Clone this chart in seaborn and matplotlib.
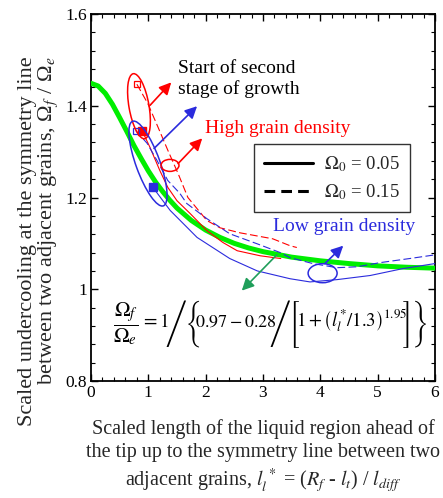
import matplotlib
matplotlib.use("Agg")
import matplotlib.pyplot as plt
import matplotlib.transforms as mtransforms
from matplotlib.patches import Ellipse
from matplotlib.lines import Line2D
from matplotlib.ticker import MultipleLocator, FixedLocator, FixedFormatter
import seaborn as sns
import pandas as pd

# ---- data -------------------------------------------------------------
# fitted relation  Ωf/Ωe = 1/{0.97 - 0.28/[1 + (l*/1.3)^1.95]}
fit_x = [0.0, 0.125, 0.25, 0.375, 0.5, 0.625, 0.75, 0.875, 1.0, 1.125, 1.25, 1.375,
         1.5, 1.75, 2.0, 2.25, 2.5, 2.75, 3.0, 3.5, 4.0, 4.5, 5.0, 5.5, 6.0]
fit_y = [1.449, 1.443, 1.427, 1.403, 1.374, 1.344, 1.313, 1.285, 1.258, 1.234, 1.213,
         1.194, 1.177, 1.150, 1.129, 1.113, 1.100, 1.090, 1.082, 1.070, 1.062, 1.056,
         1.051, 1.048, 1.046]

# high grain density, Ω0 = 0.05 (solid)
hi05_x = [0.89, 1.03, 1.20, 1.34, 1.50, 1.73, 2.02, 2.30, 2.55, 2.95, 3.31]
hi05_y = [1.346, 1.309, 1.259, 1.222, 1.193, 1.165, 1.128, 1.102, 1.084, 1.073, 1.067]

# high grain density, Ω0 = 0.15 (dashed)
hi15_x = [0.80, 0.99, 1.17, 1.34, 1.52, 1.69, 2.02, 2.25, 2.60, 3.17, 3.47, 3.59]
hi15_y = [1.447, 1.405, 1.353, 1.303, 1.252, 1.200, 1.150, 1.134, 1.123, 1.110, 1.095, 1.091]

# low grain density, Ω0 = 0.05 (solid)
lo05_x = [1.08, 1.38, 1.85, 2.42, 2.90, 3.47, 3.82, 4.29, 4.87, 5.44, 6.00]
lo05_y = [1.222, 1.172, 1.113, 1.067, 1.040, 1.023, 1.016, 1.021, 1.030, 1.045, 1.056]

# low grain density, Ω0 = 0.15 (dashed)
lo15_x = [0.78, 0.98, 1.15, 1.34, 1.55, 1.67, 2.02, 2.42, 2.90, 3.30, 3.47, 3.87,
          4.29, 4.64, 5.04, 5.56, 6.00]
lo15_y = [1.346, 1.318, 1.281, 1.237, 1.209, 1.187, 1.154, 1.121, 1.099, 1.080, 1.069,
          1.056, 1.047, 1.049, 1.058, 1.067, 1.075]

# start of the second stage of growth (open: Ω0 = 0.15, filled: Ω0 = 0.05)
start_hi_open = (0.80, 1.447)
start_hi_fill = (0.89, 1.346)
start_lo_open = (0.78, 1.346)
start_lo_fill = (1.09, 1.222)

x_ticks = [0, 1, 2, 3, 4, 5, 6]
y_ticks = [0.8, 1.0, 1.2, 1.4, 1.6]
y_tick_labels = ["0.8", "1", "1.2", "1.4", "1.6"]
legend_labels = [r"$\Omega_0$ = 0.05", r"$\Omega_0$ = 0.15"]

# ---- style ------------------------------------------------------------
sns.set_theme(style="ticks")
plt.rcParams["font.family"] = ["Liberation Serif", "DejaVu Serif"]
plt.rcParams["mathtext.fontset"] = "stix"

RED = "#ff0000"
BLUE = "#2b2bdd"
GREEN = "#00ee00"
TEAL = "#1f9e5a"

fig = plt.figure(figsize=(4.43, 4.98), dpi=100)
ax = fig.add_axes([0.2054, 0.2349, 0.7765, 0.737])

fit_df = pd.DataFrame({"x": fit_x, "y": fit_y})
sns.lineplot(data=fit_df, x="x", y="y", ax=ax, color=GREEN, lw=3.6, zorder=3)

thin = 0.8
dash = (0, (7, 3))
sns.lineplot(x=hi05_x, y=hi05_y, ax=ax, color=RED, lw=thin, zorder=4)
sns.lineplot(x=hi15_x, y=hi15_y, ax=ax, color=RED, lw=thin, linestyle=dash, zorder=4)
sns.lineplot(x=lo05_x, y=lo05_y, ax=ax, color=BLUE, lw=thin, zorder=4)
sns.lineplot(x=lo15_x, y=lo15_y, ax=ax, color=BLUE, lw=thin, linestyle=dash, zorder=4)

ax.plot(*start_hi_open, marker="s", ms=5, mfc="none", mec=RED, mew=0.9, zorder=5)
ax.plot(*start_hi_fill, marker="s", ms=6, mfc=RED, mec=RED, zorder=5)
ax.plot(*start_lo_open, marker="s", ms=5, mfc="none", mec=BLUE, mew=0.9, zorder=5)
ax.plot(*start_lo_fill, marker="s", ms=6, mfc=BLUE, mec=BLUE, zorder=5)


def ring(center, w_px, h_px, angle, color):
    """Ellipse sized in pixels, anchored at a data point."""
    tr = fig.dpi_scale_trans + mtransforms.ScaledTranslation(center[0], center[1], ax.transData)
    e = Ellipse((0, 0), w_px / fig.dpi, h_px / fig.dpi, angle=angle, transform=tr,
                fill=False, ec=color, lw=1.1, zorder=6)
    ax.add_patch(e)


ring((0.837, 1.399), 20, 66, 10, RED)
ring((0.994, 1.274), 24, 90, 20, BLUE)
ring((1.378, 1.270), 18, 12, 0, RED)
ring((4.04, 1.035), 29, 19, 0, BLUE)

arrow_style = "-|>,head_length=0.6,head_width=0.3"


def pointer(tail, tip, color):
    ax.annotate("", xy=tip, xytext=tail,
                arrowprops=dict(arrowstyle=arrow_style, color=color, lw=1.2,
                                mutation_scale=12, shrinkA=0, shrinkB=0), zorder=7)


pointer((1.03, 1.401), (1.40, 1.451), RED)
pointer((1.10, 1.307), (1.85, 1.399), BLUE)
pointer((1.52, 1.274), (1.94, 1.329), RED)
pointer((4.08, 1.056), (4.40, 1.095), BLUE)
pointer((3.24, 1.075), (2.63, 0.997), TEAL)

ax.text(1.52, 1.458, "Start of second\nstage of growth", fontsize=14, color="black",
        ha="left", va="center", linespacing=1.2)
ax.text(1.99, 1.351, "High grain density", fontsize=14, color=RED, ha="left", va="center")
ax.text(3.17, 1.137, "Low grain density", fontsize=14, color=BLUE, ha="left", va="center")

# fitted relation written out piece by piece; tall delimiters come from the
# STIX size-3 face, everything is offset (in pixels) from one anchor point
formula_anchor = (0.38, 0.92)
BIG = dict(fontfamily="STIXSizeThreeSym", fontsize=13.5)


def formula_piece(s, dx, dy, va, **kw):
    ax.annotate(s, xy=formula_anchor, xycoords="data",
                xytext=(dx * 72 / fig.dpi, dy * 72 / fig.dpi), textcoords="offset points",
                ha="left", va=va, color="black", zorder=6, **kw)


formula_piece(r"$\dfrac{\mathit{\Omega}_f}{\mathit{\Omega}_e}$", 0, 2, "center", fontsize=15)
formula_piece(r"$=1$", 28, -1, "baseline", fontsize=14)
formula_piece("/{", 53, 2, "center", **BIG)
formula_piece(r"$0.97-0.28$", 82, -1, "baseline", fontsize=13)
formula_piece("/[", 157, 2, "center", **BIG)
formula_piece(r"$1+\left(l_l^{*}/1.3\right)^{1.95}$", 183, -1, "baseline", fontsize=13.5)
formula_piece("]}", 290, 2, "center", **BIG)

handles = [Line2D([], [], color="black", lw=2.2),
           Line2D([], [], color="black", lw=2.2, linestyle=(0, (3.5, 2)))]
leg = ax.legend(handles, legend_labels, loc="upper left", bbox_to_anchor=(0.474, 0.646),
                borderaxespad=0, fontsize=13.5, frameon=True, fancybox=False,
                handlelength=2.6, handletextpad=0.6, borderpad=0.55, labelspacing=0.45)
leg.get_frame().set_edgecolor("black")
leg.get_frame().set_linewidth(1.0)
leg.set_zorder(8)

# ---- axes -------------------------------------------------------------
ax.set_xlim(0, 6)
ax.set_ylim(0.8, 1.6)
ax.xaxis.set_major_locator(FixedLocator(x_ticks))
ax.xaxis.set_minor_locator(MultipleLocator(0.2))
ax.yaxis.set_major_locator(FixedLocator(y_ticks))
ax.yaxis.set_major_formatter(FixedFormatter(y_tick_labels))
ax.yaxis.set_minor_locator(MultipleLocator(0.04))
ax.tick_params(which="both", direction="in", top=True, right=True, colors="black",
               labelsize=12.5)
ax.tick_params(which="major", length=5, width=1.0, pad=3)
ax.tick_params(which="minor", length=3, width=0.8)
for s in ax.spines.values():
    s.set_linewidth(1.3)
    s.set_color("black")

ax.set_xlabel("Scaled length of the liquid region ahead of\n"
              "the tip up to the symmetry line between two\n"
              r"adjacent grains, $l_l^{\,*}$ = ($R_f$ - $l_t$) / $l_{diff}$",
              fontsize=14.5, linespacing=1.25, va="top")
ax.xaxis.set_label_coords(0.5, -0.105)
ax.set_ylabel("Scaled undercooling at the symmetry line\n"
              r"between two adjacent grains, Ω$_f$ / Ω$_e$",
              fontsize=16, linespacing=0.95, va="center", multialignment="right")
ax.yaxis.set_label_coords(-0.152, 0.38)

fig.savefig("out.png", dpi=100)
